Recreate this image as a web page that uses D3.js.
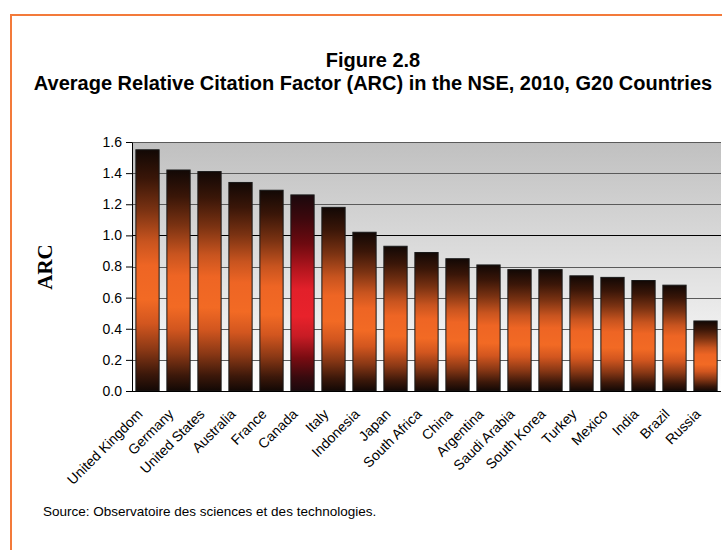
<!DOCTYPE html>
<html>
<head>
<meta charset="utf-8">
<script src="https://cdn.jsdelivr.net/npm/d3@7"></script>
<style>
  html, body { margin: 0; padding: 0; background: #fff; }
  svg { display: block; }
</style>
</head>
<body>
<script>
const countries = ["United Kingdom","Germany","United States","Australia","France","Canada","Italy","Indonesia","Japan","South Africa","China","Argentina","Saudi Arabia","South Korea","Turkey","Mexico","India","Brazil","Russia"];
const arcValues = [1.55,1.42,1.41,1.34,1.29,1.26,1.18,1.02,0.93,0.89,0.85,0.81,0.78,0.78,0.74,0.73,0.71,0.68,0.45];
const yTicks = [0.0,0.2,0.4,0.6,0.8,1.0,1.2,1.4,1.6];
const highlight = "Canada";
const titleLines = ["Figure 2.8","Average Relative Citation Factor (ARC) in the NSE, 2010, G20 Countries"];
const yLabel = "ARC";
const sourceText = "Source: Observatoire des sciences et des technologies.";

const W = 722, H = 550;
const plot = {left: 132, right: 721, top: 142, bottom: 391};

const svg = d3.select("body").append("svg").attr("width", W).attr("height", H);
const defs = svg.append("defs");

// background gradient
const bg = defs.append("linearGradient").attr("id","bgGrad").attr("x1",0).attr("y1",0).attr("x2",0).attr("y2",1);
bg.append("stop").attr("offset","0%").attr("stop-color","#c0c0c0");
bg.append("stop").attr("offset","100%").attr("stop-color","#ffffff");

function barGrad(id, stops) {
  const g = defs.append("linearGradient").attr("id",id).attr("x1",0).attr("y1",0).attr("x2",0).attr("y2",1);
  stops.forEach(s => g.append("stop").attr("offset", s[0]).attr("stop-color", s[1]));
}
barGrad("orangeGrad", [
  ["0%","#120805"],["12%","#3a1608"],["25%","#7a3212"],["38%","#c8541f"],["48%","#ee6524"],
  ["62%","#f26a24"],["72%","#d2561f"],["83%","#8a3815"],["93%","#3c180a"],["100%","#120805"]
]);
barGrad("redGrad", [
  ["0%","#1a080c"],["12%","#3d080d"],["25%","#6e0a10"],["38%","#b4161e"],["48%","#e2202a"],
  ["62%","#e8222b"],["72%","#c81c25"],["83%","#7a0c12"],["93%","#380a0e"],["100%","#1a080c"]
]);

// orange frame
svg.append("rect").attr("x",11).attr("y",15).attr("width",W+20).attr("height",H+20)
  .attr("fill","none").attr("stroke","#f37a3a").attr("stroke-width",2);

// title
const tg = svg.append("g").attr("font-family","Liberation Sans, Arial, sans-serif")
  .attr("font-weight","bold").attr("text-anchor","middle").attr("fill","#000");
tg.append("text").attr("x",373).attr("y",67).attr("font-size","20px").text(titleLines[0]);
tg.append("text").attr("x",373).attr("y",90).attr("font-size","20px").text(titleLines[1]);

const x = d3.scaleBand().domain(countries).range([plot.left, plot.right]).paddingInner(0.25).paddingOuter(0.125);
const y = d3.scaleLinear().domain([0,1.6]).range([plot.bottom, plot.top]);

// plot background
svg.append("rect").attr("x",plot.left).attr("y",plot.top)
  .attr("width",plot.right-plot.left).attr("height",plot.bottom-plot.top).attr("fill","url(#bgGrad)");

// gridlines
svg.append("g").selectAll("line").data(yTicks.filter(d => d > 0)).join("line")
  .attr("x1",plot.left).attr("x2",plot.right)
  .attr("y1",d => Math.round(y(d)) + 0.5).attr("y2",d => Math.round(y(d)) + 0.5)
  .attr("stroke",d => Math.abs(d-1.0) < 1e-9 ? "#000" : "#5a5a5a").attr("stroke-width",1);

// bars
svg.append("g").selectAll("rect").data(countries).join("rect")
  .attr("x",d => x(d)).attr("width",x.bandwidth())
  .attr("y",(d,i) => y(arcValues[i])).attr("height",(d,i) => y(0) - y(arcValues[i]))
  .attr("fill",d => d === highlight ? "url(#redGrad)" : "url(#orangeGrad)")
  .attr("stroke","#1a1a1a").attr("stroke-width",1);

// y axis
const yAxis = svg.append("g").attr("transform",`translate(${plot.left},0)`)
  .call(d3.axisLeft(y).tickValues(yTicks).tickFormat(d3.format(".1f")).tickSize(6).tickSizeOuter(0));
yAxis.select(".domain").attr("stroke","#000");
yAxis.selectAll(".tick line").attr("stroke","#000");
yAxis.selectAll("text").attr("font-family","Liberation Sans, Arial, sans-serif").attr("font-size","14px").attr("fill","#000").attr("x",-10);

// x axis line
svg.append("line").attr("x1",plot.left).attr("x2",plot.right).attr("y1",plot.bottom+0.5).attr("y2",plot.bottom+0.5)
  .attr("stroke","#000").attr("stroke-width",1.2);

// x labels
svg.append("g").selectAll("text").data(countries).join("text")
  .attr("transform",d => `translate(${x(d) + x.bandwidth()/2 - 4},${plot.bottom + 24}) rotate(-45)`)
  .attr("text-anchor","end")
  .attr("font-family","Liberation Sans, Arial, sans-serif").attr("font-size","14px").attr("fill","#000")
  .text(d => d);

// y label
svg.append("text").attr("transform","translate(52,267) rotate(-90)").attr("text-anchor","middle")
  .attr("font-family","Liberation Serif, Times New Roman, serif").attr("font-weight","bold").attr("font-size","21px")
  .text(yLabel);

// source
svg.append("text").attr("x",43).attr("y",516)
  .attr("font-family","Liberation Sans, Arial, sans-serif").attr("font-size","13.5px").attr("fill","#000")
  .text(sourceText);
</script>
</body>
</html>
